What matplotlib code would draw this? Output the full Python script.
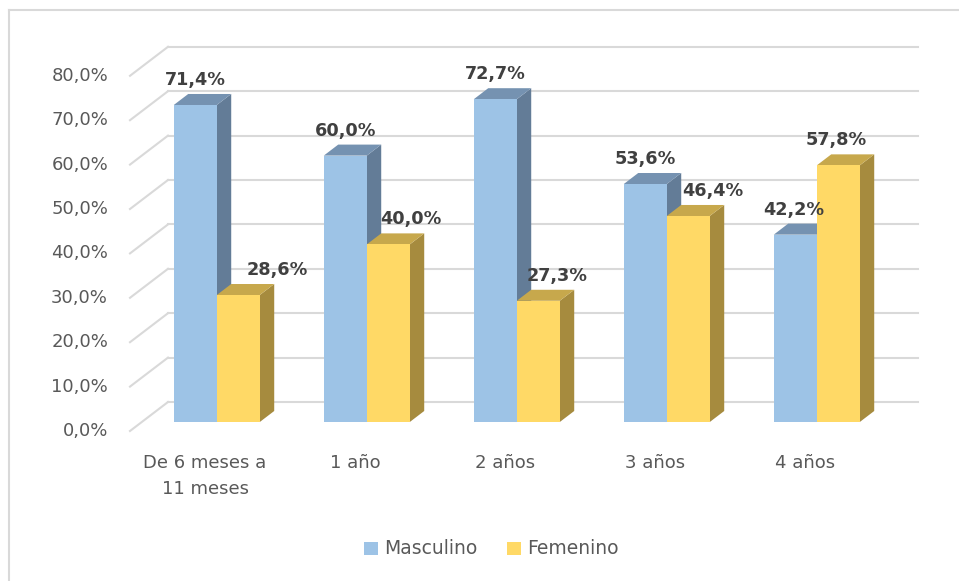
import numpy as np
import matplotlib
matplotlib.use("Agg")
import matplotlib.pyplot as plt
from matplotlib.patches import Polygon, Rectangle
from matplotlib.lines import Line2D

# Data
categories = ["De 6 meses a\n11 meses", "1 año", "2 años", "3 años", "4 años"]
masculino = [71.4, 60.0, 72.7, 53.6, 42.2]
femenino = [28.6, 40.0, 27.3, 46.4, 57.8]
series_names = ["Masculino", "Femenino"]
yticks = [0, 10, 20, 30, 40, 50, 60, 70, 80]

# label nudges (px) so that labels don't sit on the bars, like excel does
label_nudge = [[0, 0, 0, 0, -2], [39, 23, 19, 24, -2]]

# Styles
front_col = ["#9DC3E6", "#FFD966"]
top_col = ["#7592B1", "#C7A84C"]
side_col = ["#637C97", "#A68B3E"]
grid_col = "#D9D9D9"
txt_col = "#595959"
lbl_col = "#404040"

W_PX, H_PX = 959, 581
PX_X = 150.0   # px per category
PX_Y = 4.44    # px per percent
X0 = 205.0     # px of category 0 (front plane)
Y0 = 150.0     # px from bottom of 0 % (front plane)
DX = 38 / PX_X  # depth vector (full depth)
DY = 29 / PX_Y
BW = 43 / PX_X  # bar width
d_front, d_back = 0.31, 0.69

fig = plt.figure(figsize=(W_PX / 100, H_PX / 100), dpi=100)
ax = fig.add_axes([0, 0, 1, 1])
ax.set_xlim(-X0 / PX_X, (W_PX - X0) / PX_X)
ax.set_ylim(-Y0 / PX_Y, (H_PX - Y0) / PX_Y)
ax.axis("off")

# chart border (left + top only visible)
fig.add_artist(Line2D([9 / W_PX, 9 / W_PX], [0, 1 - 10 / H_PX], color="#D9D9D9", lw=1.5))
fig.add_artist(Line2D([9 / W_PX, 1], [1 - 10 / H_PX, 1 - 10 / H_PX], color="#D9D9D9", lw=1.5))

n = len(categories)
xl, xr = -0.5, n - 0.5
for v in yticks:
    # back wall
    ax.plot([xl + DX, xr + DX], [v + DY, v + DY], color=grid_col, lw=1.5, zorder=1)
    # side wall
    ax.plot([xl, xl + DX], [v, v + DY], color=grid_col, lw=1.5, zorder=1)
    ax.text(xl - 22 / PX_X, v, "{:.1f}%".format(v).replace(".", ","), ha="right", va="center",
            fontsize=13, color=txt_col)

fx, fy = d_front * DX, d_front * DY
bx, by = d_back * DX, d_back * DY
for i in range(n):
    for s, vals in enumerate([masculino, femenino]):
        v = vals[i]
        a = i - BW + s * BW
        b = a + BW
        front = [(a + fx, fy), (b + fx, fy), (b + fx, v + fy), (a + fx, v + fy)]
        top = [(a + fx, v + fy), (b + fx, v + fy), (b + bx, v + by), (a + bx, v + by)]
        side = [(b + fx, fy), (b + bx, by), (b + bx, v + by), (b + fx, v + fy)]
        ax.add_patch(Polygon(side, closed=True, fc=side_col[s], ec="none", zorder=2 + i))
        ax.add_patch(Polygon(top, closed=True, fc=top_col[s], ec="none", zorder=2 + i))
        ax.add_patch(Polygon(front, closed=True, fc=front_col[s], ec="none", zorder=2 + i))
        lx = (a + b) / 2 + fx + label_nudge[s][i] / PX_X
        ax.text(lx, v + fy + 25 / PX_Y, "{:.1f}%".format(v).replace(".", ","),
                ha="center", va="center", fontsize=12.7, fontweight="bold", color=lbl_col, zorder=20)

# category labels
for i, c in enumerate(categories):
    ax.text(i, -23 / PX_Y, c, ha="center", va="top", fontsize=13, color=txt_col,
            linespacing=1.55)

# legend
leg_y = 1 - 549 / H_PX
for s, (name, x_px) in enumerate(zip(series_names, [364, 507])):
    fig.add_artist(Rectangle((x_px / W_PX, leg_y - 6 / H_PX), 14 / W_PX, 13 / H_PX,
                             transform=fig.transFigure, fc=front_col[s], ec="none"))
    fig.text((x_px + 20) / W_PX, leg_y, name, ha="left", va="center", fontsize=13.5, color=txt_col)

fig.savefig("out.png", dpi=100)
